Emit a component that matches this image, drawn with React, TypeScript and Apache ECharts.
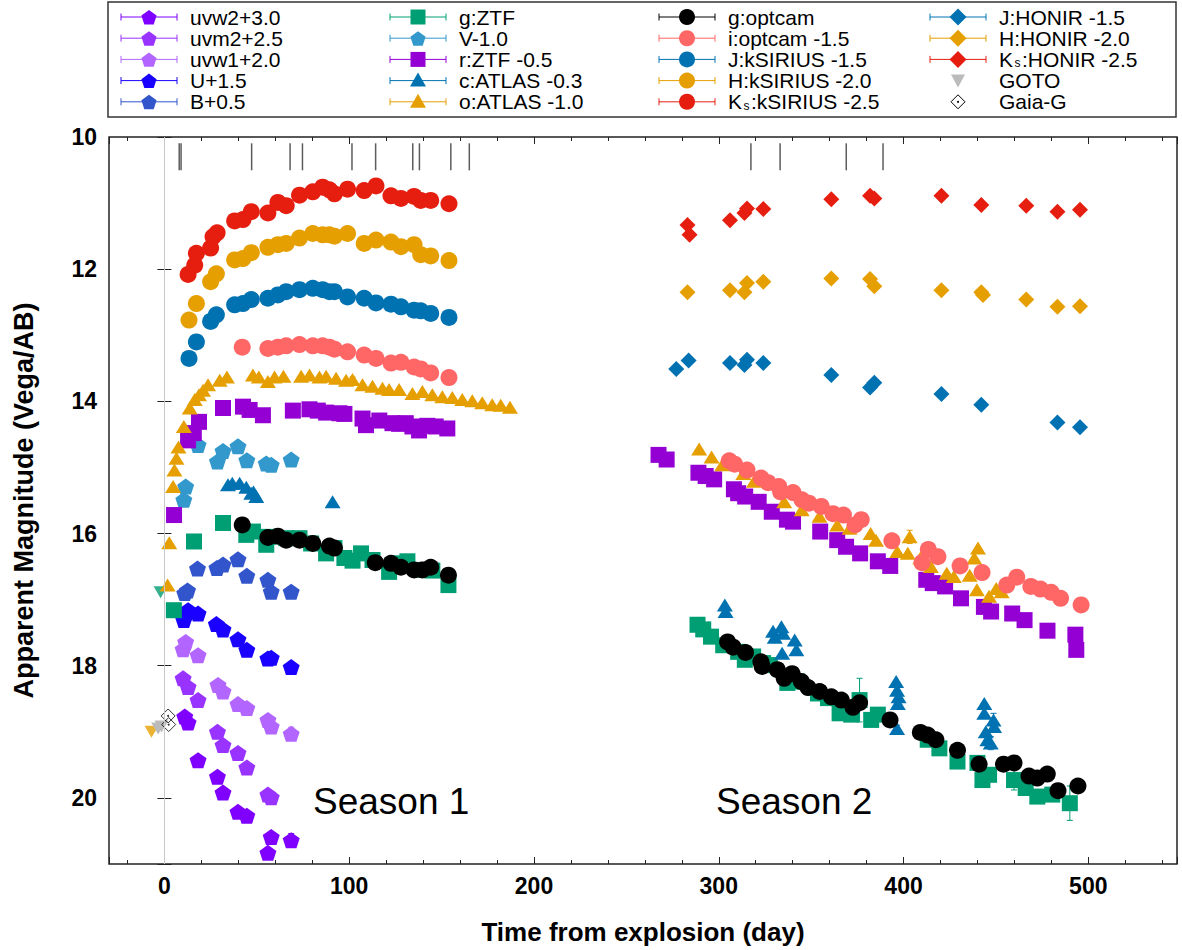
import React, { useEffect, useRef } from 'react';
import * as echarts from 'echarts';

type Pt = number[];

// ---------- data: [day, magnitude, (error)] ----------
const uvw2: Pt[] = [[11, 18.77], [12.8, 18.86], [18.2, 19.43], [28.7, 19.68], [31.7, 19.92], [39.8, 20.21, 0.05], [44.6, 20.27, 0.06], [56, 20.83, 0.05], [57.8, 20.59, 0.06], [68.6, 20.64, 0.1]];
const uvm2: Pt[] = [[10.1, 18.19], [12.8, 18.32], [18.2, 18.52], [28.7, 19.0], [31.7, 19.2, 0.04], [39.8, 19.32, 0.05], [44.6, 19.54, 0.06], [56, 19.95, 0.05], [57.8, 19.99, 0.08]];
const uvw1: Pt[] = [[10.1, 17.75], [11.5, 17.64], [18.2, 17.84], [29, 18.29], [31.7, 18.39], [39.8, 18.58, 0.05], [44.6, 18.64, 0.05], [56, 18.82], [57.8, 18.92], [68.6, 19.03, 0.1]];
const uBand: Pt[] = [[10.5, 17.31], [11.5, 17.22], [12.8, 17.16], [18.2, 17.21], [28.1, 17.37], [31.7, 17.45], [39.8, 17.6], [44.6, 17.76], [56, 17.89], [57.8, 17.88], [68.6, 18.02, 0.06]];
const bBand: Pt[] = [[11, 16.9], [12.5, 16.86], [17.9, 16.53], [28.4, 16.52], [31.7, 16.47], [39.8, 16.39], [44.6, 16.64], [56, 16.7], [57.8, 16.88], [68.6, 16.88]];
const gZTF: Pt[] = [[5.1, 17.16], [16, 16.12], [31.7, 15.84], [44.3, 16.02], [47.9, 15.97], [55.1, 16.17], [56, 16.05], [65.9, 16.07], [73.1, 16.07], [79.4, 16.15], [87.5, 16.3], [92, 16.22], [97.4, 16.37], [101.8, 16.41], [106.4, 16.3], [112.6, 16.4], [121.6, 16.58], [127.9, 16.45], [131.5, 16.42], [137.8, 16.55], [145, 16.56], [153.7, 16.78],
  [288.5, 17.38], [291.6, 17.45], [295.8, 17.56], [302.4, 17.69], [310.5, 17.79], [314.1, 17.91], [318.6, 17.86], [324, 17.96], [327.6, 17.99], [337.1, 18.26], [342.5, 18.24], [353.7, 18.42], [359.1, 18.49, 0.06], [365.4, 18.72, 0.06], [371.7, 18.74, 0.05], [376.2, 18.52, 0.33], [382.5, 18.82], [386.1, 18.74], [413.1, 19.12, 0.05], [419.4, 19.25], [429.2, 19.45], [440, 19.47], [442.7, 19.73, 0.1], [446.3, 19.65, 0.08], [459.8, 19.73, 0.15], [466.1, 19.85, 0.08], [472.4, 19.98, 0.08], [480.5, 19.95, 0.1], [490, 20.08, 0.26]];
const vBand: Pt[] = [[10.5, 15.49], [11.5, 15.29, 0.06], [18.2, 14.66], [28.7, 14.91], [31.7, 14.75], [39.8, 14.68, 0.05], [44.6, 14.89, 0.07], [55.1, 14.94], [57.8, 14.96], [68.6, 14.88, 0.07]];
const rZTF: Pt[] = [[5.2, 15.72], [12.8, 14.59], [15.9, 14.48], [18.7, 14.31], [31.7, 14.1], [42.5, 14.08], [46.1, 14.13], [53.3, 14.21], [69.5, 14.14], [78.5, 14.12], [83, 14.14], [87.5, 14.17], [94.7, 14.18], [97.4, 14.19], [107.2, 14.26], [109.1, 14.36], [116.3, 14.29], [123.4, 14.33], [127, 14.34], [130.6, 14.33], [134.2, 14.38], [137.8, 14.44], [142.3, 14.37], [146.8, 14.38], [153.1, 14.41],
  [267.4, 14.81], [271.8, 14.88], [289, 15.08], [292.9, 15.13], [297.5, 15.18], [308.2, 15.33], [310.5, 15.39], [314.3, 15.44], [321.6, 15.52], [328.7, 15.67], [336.9, 15.79], [340.2, 15.82], [354.9, 15.97], [364.1, 16.1], [368.9, 16.2], [376.5, 16.3], [386.1, 16.42], [392.8, 16.49], [412.3, 16.7], [415.8, 16.75], [422.5, 16.8], [431.1, 16.98], [443.5, 17.11], [447.4, 17.18], [458.8, 17.21], [465.5, 17.31], [477.9, 17.47], [493, 17.53, 0.04], [493.5, 17.76, 0.05]];
const cATLAS: Pt[] = [[34.4, 15.26], [36.7, 15.24], [40.7, 15.24], [44.3, 15.3], [47, 15.39], [48.2, 15.37], [49.7, 15.44], [91, 15.52],
  [303.3, 17.08], [303.7, 17.18], [329.4, 17.48], [330.3, 17.57], [333.9, 17.41], [334.8, 17.51], [334.3, 17.81], [341.1, 17.61], [342, 17.76], [396, 18.24], [396.5, 18.37], [397.3, 18.47], [396.9, 18.57], [396.5, 18.95, 0.05], [443.7, 18.57], [443.7, 18.72], [444.5, 19.0], [445.4, 19.12], [448.7, 18.82, 0.1], [449, 18.92], [447.2, 19.17, 0.1]];
const oATLAS: Pt[] = [[1.7, 16.78], [2.6, 16.14], [4.7, 15.29], [5.4, 15.04], [6.5, 14.86], [7.6, 14.69], [10.5, 14.38], [13.7, 14.1], [16.4, 13.97], [18.7, 13.9], [20.9, 13.83], [23.6, 13.75], [29.9, 13.68], [33.8, 13.63], [47.9, 13.6], [51.1, 13.63], [56, 13.7], [59.6, 13.63], [64.4, 13.62], [74, 13.62], [78.5, 13.6], [83.9, 13.63], [87.5, 13.62], [92.9, 13.65], [98.3, 13.68], [101.8, 13.67, 0.04], [107.2, 13.75], [112.6, 13.77], [118, 13.8], [121.6, 13.82], [127, 13.82], [134.2, 13.88], [139.6, 13.85], [145, 13.9], [150.4, 13.93], [155.8, 13.94], [161.2, 13.97], [166.6, 13.99], [172, 14.02], [177.4, 14.05], [182, 14.06], [187, 14.09],
  [289.4, 14.72], [296.1, 14.84], [301.9, 14.96], [313.3, 15.09], [319.1, 15.21], [335.4, 15.52], [344.9, 15.64], [354.5, 15.74], [364.1, 15.87], [370.8, 15.92], [382.2, 16.0], [385.1, 16.1], [396.6, 16.27], [403.3, 16.05, 0.1], [402.3, 16.3], [409.1, 16.37], [414.8, 16.5], [423.4, 16.6], [427.2, 16.65], [435.8, 16.63], [438.3, 16.37, 0.08], [440.3, 16.22], [439.7, 16.85], [446.3, 16.95], [450.2, 16.83], [453.1, 16.88]];
const gOptcam: Pt[] = [[42.1, 15.87], [56, 16.06], [61.4, 16.04], [65.9, 16.1], [73.1, 16.1], [80.3, 16.15], [89.3, 16.19], [92, 16.22], [114.1, 16.44], [122.6, 16.45], [128, 16.51], [135.1, 16.55], [139.6, 16.55], [144.1, 16.51], [153.7, 16.63],
  [304.8, 17.64], [307.8, 17.72], [314.5, 17.8], [322.8, 17.94], [323.5, 18.01], [331.7, 18.06], [335.4, 18.19], [339.7, 18.12], [344.7, 18.24], [348.3, 18.33], [354.6, 18.39], [360.9, 18.47], [366.3, 18.52], [372.6, 18.63], [376.2, 18.56], [392.7, 18.82], [409.1, 19.01], [413.1, 19.05], [417.5, 19.12], [429.2, 19.28], [440.9, 19.49], [454.1, 19.49], [459.8, 19.47], [467.9, 19.67], [472.4, 19.7], [477.8, 19.64], [483.6, 19.89], [494.4, 19.82]];
const iOptcam: Pt[] = [[42.1, 13.18], [56, 13.2], [61.4, 13.18], [65.9, 13.16], [73.1, 13.14], [80.3, 13.16], [85.6, 13.16], [89.3, 13.18], [92, 13.21], [99.1, 13.25], [108.1, 13.3], [114.5, 13.35], [122.6, 13.42], [128, 13.41], [135.1, 13.48], [138.7, 13.51], [144.1, 13.57], [154, 13.64],
  [305.7, 14.9], [308.6, 14.95], [315.3, 15.04], [322.9, 15.16], [326.7, 15.23], [332.5, 15.29], [333.5, 15.37], [340.2, 15.38], [345, 15.49], [348.8, 15.54], [355.5, 15.59], [361.8, 15.7], [367.5, 15.72], [373.7, 15.87], [377.1, 15.79], [393.7, 16.11], [410, 16.44], [413.4, 16.24], [418.6, 16.35], [430.6, 16.49], [442.5, 16.59], [455.9, 16.78], [461.3, 16.66], [468.9, 16.8], [474.1, 16.84], [479.9, 16.89], [485, 16.98], [496.1, 17.08]];
const skDays: number[] = [13.3, 17.3, 25.0, 28.1, 38.0, 42.5, 47.0, 56.0, 61.4, 65.9, 73.1, 80.3, 85.6, 89.3, 92.0, 99.1, 108.1, 114.5, 122.6, 128, 135.1, 138.7, 144.1, 154];
const jKSiriusMag: number[] = [13.35, 13.1, 12.79, 12.69, 12.54, 12.52, 12.46, 12.44, 12.39, 12.34, 12.31, 12.29, 12.31, 12.34, 12.34, 12.42, 12.44, 12.51, 12.53, 12.57, 12.62, 12.63, 12.67, 12.73];
const hKSiriusMag: number[] = [12.77, 12.52, 12.19, 12.07, 11.86, 11.84, 11.75, 11.67, 11.63, 11.61, 11.53, 11.46, 11.48, 11.48, 11.5, 11.46, 11.61, 11.56, 11.59, 11.66, 11.63, 11.78, 11.8, 11.87];
const ksKSirius: Pt[] = [[12.8, 12.08], [16.4, 11.94], [17.3, 11.76], [25.0, 11.68], [26.3, 11.51], [28.5, 11.45], [38.0, 11.27], [42.5, 11.25], [47.0, 11.13], [56.0, 11.15], [61.4, 10.99], [65.9, 11.04], [73.1, 10.88], [80.3, 10.83], [85.6, 10.76], [89.3, 10.8], [92.0, 10.86], [99.1, 10.79], [108.1, 10.81], [114.5, 10.74], [122.6, 10.89], [128, 10.93], [135.1, 10.9], [138.7, 10.96], [144.1, 10.96], [154, 11.01]];
const jHonir: Pt[] = [[277, 13.51], [283.7, 13.38], [306.1, 13.42], [313.9, 13.45], [315.3, 13.37], [324.1, 13.42], [360.9, 13.6], [381.9, 13.79], [384.2, 13.72], [420.5, 13.89], [442.1, 14.05], [483.3, 14.32], [495.5, 14.39]];
const hHonir: Pt[] = [[283.1, 12.35], [306.1, 12.32], [313.9, 12.35], [315.3, 12.21], [324.1, 12.19], [360.9, 12.14], [381.9, 12.15], [384.2, 12.26], [420.5, 12.32], [442.1, 12.35], [443, 12.39], [466.4, 12.46], [483.3, 12.57], [495.5, 12.56]];
const ksHonir: Pt[] = [[283.1, 11.33], [284.2, 11.48], [306.1, 11.26], [313.9, 11.15], [315.3, 11.08], [324.1, 11.09], [360.9, 10.94], [381.9, 10.89], [384.2, 10.93], [420.5, 10.89], [442.1, 11.03], [466.4, 11.04], [483.3, 11.13], [495.5, 11.1]];
const goto: Pt[] = [[-3.4, 18.95], [-1.6, 18.92]];
const gaiaG: Pt[] = [[2.0, 18.76], [2.3, 18.89]];
const oLimit: Pt[] = [[-7, 19.0]];
const gLimit: Pt[] = [[-2.1, 16.89]];
const spectraDays: number[] = [8, 9, 47.2, 68, 74.7, 101.5, 114.3, 134.4, 138, 155, 165, 317.4, 333.2, 369, 388.9];
const seasonLabels: string[] = ['Season 1', 'Season 2'];

const jKSirius: Pt[] = skDays.map((d, i) => [d, jKSiriusMag[i]]);
const hKSirius: Pt[] = skDays.map((d, i) => [d, hKSiriusMag[i]]);

// ---------- styles ----------
const FONT = '"Liberation Sans", Arial, Helvetica, sans-serif';
const PENT = 'path://M0,-1L0.951,-0.309L0.588,0.809L-0.588,0.809L-0.951,-0.309Z';
const DOWN = 'path://M0,0L2,0L1,1.7Z';

type Kind = 'pent' | 'rect' | 'tri' | 'circle' | 'diamond' | 'down' | 'gaia';
interface Band { label: string; data: Pt[]; color: string; kind: Kind; noLine?: boolean }

const bands: Band[] = [
  { label: 'uvw2+3.0', data: uvw2, color: '#7f00ff', kind: 'pent' },
  { label: 'uvm2+2.5', data: uvm2, color: '#9933ff', kind: 'pent' },
  { label: 'uvw1+2.0', data: uvw1, color: '#b266ff', kind: 'pent' },
  { label: 'U+1.5', data: uBand, color: '#1a00ff', kind: 'pent' },
  { label: 'B+0.5', data: bBand, color: '#3355cc', kind: 'pent' },
  { label: 'g:ZTF', data: gZTF, color: '#009e73', kind: 'rect' },
  { label: 'V-1.0', data: vBand, color: '#3399cc', kind: 'pent' },
  { label: 'r:ZTF -0.5', data: rZTF, color: '#9400d3', kind: 'rect' },
  { label: 'c:ATLAS -0.3', data: cATLAS, color: '#0072b2', kind: 'tri' },
  { label: 'o:ATLAS -1.0', data: oATLAS, color: '#e69f00', kind: 'tri' },
  { label: 'g:optcam', data: gOptcam, color: '#000000', kind: 'circle' },
  { label: 'i:optcam -1.5', data: iOptcam, color: '#ff6666', kind: 'circle' },
  { label: 'J:kSIRIUS -1.5', data: jKSirius, color: '#0072b2', kind: 'circle' },
  { label: 'H:kSIRIUS -2.0', data: hKSirius, color: '#e69f00', kind: 'circle' },
  { label: 'K_s:kSIRIUS -2.5', data: ksKSirius, color: '#e51e10', kind: 'circle' },
  { label: 'J:HONIR -1.5', data: jHonir, color: '#0072b2', kind: 'diamond' },
  { label: 'H:HONIR -2.0', data: hHonir, color: '#e69f00', kind: 'diamond' },
  { label: 'K_s:HONIR -2.5', data: ksHonir, color: '#e51e10', kind: 'diamond' },
  { label: 'GOTO', data: goto, color: '#bbbbbb', kind: 'down', noLine: true },
  { label: 'Gaia-G', data: gaiaG, color: '#000000', kind: 'gaia', noLine: true },
];

const symbolOf = (k: Kind): { symbol: string; size: number | number[] } => {
  switch (k) {
    case 'pent': return { symbol: PENT, size: [17, 16] };
    case 'rect': return { symbol: 'rect', size: 16 };
    case 'tri': return { symbol: 'triangle', size: [16, 13] };
    case 'circle': return { symbol: 'circle', size: 17 };
    case 'diamond': return { symbol: 'diamond', size: [16, 16] };
    case 'down': return { symbol: DOWN, size: [14, 12] };
    default: return { symbol: 'diamond', size: [14, 14] };
  }
};

const errSeries = (data: Pt[], color: string) => ({
  type: 'custom',
  silent: true,
  data: data.filter((d) => d.length > 2),
  encode: { x: 0, y: 1 },
  renderItem: (_p: any, api: any) => {
    const t = api.value(0), m = api.value(1), e = api.value(2);
    const a = api.coord([t, m - e]);
    const b = api.coord([t, m + e]);
    const st = { stroke: color, lineWidth: 1 };
    return {
      type: 'group',
      children: [
        { type: 'line', shape: { x1: a[0], y1: a[1], x2: b[0], y2: b[1] }, style: st },
        { type: 'line', shape: { x1: a[0] - 3, y1: a[1], x2: a[0] + 3, y2: a[1] }, style: st },
        { type: 'line', shape: { x1: b[0] - 3, y1: b[1], x2: b[0] + 3, y2: b[1] }, style: st },
      ],
    };
  },
});

const legendMarker = (k: Kind, cx: number, cy: number, color: string): any => {
  const fill = { fill: color };
  if (k === 'pent') {
    const pts: number[][] = [];
    for (let i = 0; i < 5; i++) {
      const a = (-90 + 72 * i) * Math.PI / 180;
      pts.push([cx + 8 * Math.cos(a), cy + 1 + 8 * Math.sin(a)]);
    }
    return { type: 'polygon', shape: { points: pts }, style: fill };
  }
  if (k === 'rect') return { type: 'rect', shape: { x: cx - 7.5, y: cy - 7.5, width: 15, height: 15 }, style: fill };
  if (k === 'tri') return { type: 'polygon', shape: { points: [[cx, cy - 8], [cx + 8, cy + 6], [cx - 8, cy + 6]] }, style: fill };
  if (k === 'circle') return { type: 'circle', shape: { cx, cy, r: 8 }, style: fill };
  if (k === 'diamond') return { type: 'polygon', shape: { points: [[cx, cy - 8.5], [cx + 8.5, cy], [cx, cy + 8.5], [cx - 8.5, cy]] }, style: fill };
  if (k === 'down') return { type: 'polygon', shape: { points: [[cx - 7, cy - 6], [cx + 7, cy - 6], [cx, cy + 7]] }, style: fill };
  return {
    type: 'group', children: [
      { type: 'polygon', shape: { points: [[cx, cy - 7], [cx + 7, cy], [cx, cy + 7], [cx - 7, cy]] }, style: { fill: 'none', stroke: '#000', lineWidth: 1 } },
      { type: 'circle', shape: { cx, cy, r: 1 }, style: { fill: '#000' } },
    ],
  };
};

const buildLegend = (): any[] => {
  const els: any[] = [
    { type: 'rect', shape: { x: 108, y: 2, width: 1068, height: 115 }, style: { fill: '#fff', stroke: '#333', lineWidth: 1.5 } },
  ];
  const colX = [121, 390, 659, 930];
  bands.forEach((b, idx) => {
    const col = Math.floor(idx / 5);
    const row = idx % 5;
    const x0 = colX[col];
    const cy = 17 + row * 21.2;
    const x1 = x0 + 56;
    const cx = x0 + 28;
    if (!b.noLine) {
      const st = { stroke: b.color, lineWidth: 1 };
      els.push({ type: 'line', shape: { x1: x0, y1: cy, x2: x1, y2: cy }, style: st });
      els.push({ type: 'line', shape: { x1: x0, y1: cy - 3.5, x2: x0, y2: cy + 3.5 }, style: st });
      els.push({ type: 'line', shape: { x1: x1, y1: cy - 3.5, x2: x1, y2: cy + 3.5 }, style: st });
    }
    els.push(legendMarker(b.kind, cx, cy, b.color));
    const tx = x0 + 69;
    const font = { fontSize: 21, lineHeight: 20, fontFamily: FONT, fill: '#000' };
    if (b.label.startsWith('K_s')) {
      els.push({ type: 'text', x: tx, y: cy, style: { text: 'K', verticalAlign: 'middle', ...font } });
      els.push({ type: 'text', x: tx + 15.5, y: cy + 4, style: { text: 's', verticalAlign: 'middle', fontSize: 12, lineHeight: 10, fontFamily: FONT, fill: '#000' } });
      els.push({ type: 'text', x: tx + 23, y: cy, style: { text: b.label.slice(3), verticalAlign: 'middle', ...font } });
    } else {
      els.push({ type: 'text', x: tx, y: cy, style: { text: b.label, verticalAlign: 'middle', ...font } });
    }
  });
  els.push({ type: 'text', x: 313, y: 801, style: { text: seasonLabels[0], verticalAlign: 'middle', fontSize: 37, fontFamily: FONT, fill: '#000' } });
  els.push({ type: 'text', x: 716, y: 801, style: { text: seasonLabels[1], verticalAlign: 'middle', fontSize: 37, fontFamily: FONT, fill: '#000' } });
  return els;
};

const buildOption = (): any => {
  const X_MIN = -30, X_MAX = 548;
  const tickLabel = { fontSize: 23, fontWeight: 'bold', color: '#000', fontFamily: FONT };
  const xBase = { type: 'value', min: X_MIN, max: X_MAX, gridIndex: 0, splitLine: { show: false }, axisLine: { show: false } };
  const yBase = { type: 'value', min: 10, max: 21, interval: 2, inverse: true, splitLine: { show: false }, axisLine: { show: false } };
  const series: any[] = [];
  // spectra epochs and t=0 line
  series.push({
    type: 'scatter', silent: true, xAxisIndex: 0, yAxisIndex: 0,
    symbol: 'rect', symbolSize: [1.5, 27],
    itemStyle: { color: '#333' },
    data: spectraDays.map((d) => [d, 10.3]),
    markLine: {
      silent: true, symbol: 'none', label: { show: false },
      lineStyle: { color: '#c8c8c8', type: 'solid', width: 1 },
      data: [{ xAxis: 0 }],
    },
  });
  // limits
  series.push({ type: 'scatter', silent: true, symbol: DOWN, symbolSize: [14, 12], itemStyle: { color: '#e69f00' }, data: oLimit });
  series.push({ type: 'scatter', silent: true, symbol: DOWN, symbolSize: [14, 12], itemStyle: { color: '#009e73' }, data: gLimit });
  bands.forEach((b) => {
    if (b.data.some((d) => d.length > 2)) series.push(errSeries(b.data, b.color));
    const s = symbolOf(b.kind);
    const isGaia = b.kind === 'gaia';
    series.push({
      type: 'scatter', name: b.label, silent: true,
      symbol: s.symbol, symbolSize: s.size,
      itemStyle: isGaia ? { color: 'rgba(0,0,0,0)', borderColor: '#000', borderWidth: 1 } : { color: b.color, opacity: 1 },
      data: b.data.map((d) => [d[0], d[1]]),
    });
    if (isGaia) {
      series.push({ type: 'scatter', silent: true, symbol: 'circle', symbolSize: 2, itemStyle: { color: '#000' }, data: b.data.map((d) => [d[0], d[1]]) });
    }
  });

  return {
    animation: false,
    backgroundColor: '#fff',
    grid: { left: 109, top: 137, width: 1068, height: 727, show: true, borderColor: '#222', borderWidth: 1.5, backgroundColor: 'transparent' },
    xAxis: [
      {
        ...xBase, position: 'bottom', splitNumber: 6,
        axisTick: { inside: true, length: 7, lineStyle: { color: '#222', width: 1 } },
        axisLabel: { ...tickLabel, margin: 10, formatter: (v: number) => (Math.abs(v % 100) < 1e-6 ? String(v) : '') },
        name: 'Time from explosion (day)', nameLocation: 'middle', nameGap: 55,
        nameTextStyle: { fontSize: 26, fontWeight: 'bold', color: '#000', fontFamily: FONT },
      },
      { ...xBase, position: 'bottom', splitNumber: 29, axisTick: { inside: true, length: 4, lineStyle: { color: '#222' } }, axisLabel: { show: false } },
      { ...xBase, position: 'top', splitNumber: 6, axisTick: { inside: true, length: 7, lineStyle: { color: '#222' } }, axisLabel: { show: false } },
      { ...xBase, position: 'top', splitNumber: 29, axisTick: { inside: true, length: 4, lineStyle: { color: '#222' } }, axisLabel: { show: false } },
    ],
    yAxis: [
      {
        ...yBase, position: 'left',
        axisTick: { inside: true, length: 7, lineStyle: { color: '#222' } },
        axisLabel: { ...tickLabel, margin: 12, formatter: (v: number) => (v % 2 === 0 && v <= 20 ? String(v) : '') },
        name: 'Apparent Magnitude (Vega/AB)', nameLocation: 'middle', nameGap: 72, nameRotate: 90,
        nameTextStyle: { fontSize: 27, fontWeight: 'bold', color: '#000', fontFamily: FONT },
      },
      { ...yBase, position: 'right', axisTick: { inside: true, length: 7, lineStyle: { color: '#222' } }, axisLabel: { show: false } },
    ],
    graphic: { elements: buildLegend() },
    series,
  };
};

export default function App() {
  const ref = useRef<HTMLDivElement>(null);
  useEffect(() => {
    if (!ref.current) return;
    const chart = echarts.init(ref.current, null, { renderer: 'svg' });
    chart.setOption(buildOption());
    return () => chart.dispose();
  }, []);
  return <div ref={ref} style={{ position: 'absolute', left: 0, top: 0, width: 1182, height: 950, background: '#fff' }} />;
}
